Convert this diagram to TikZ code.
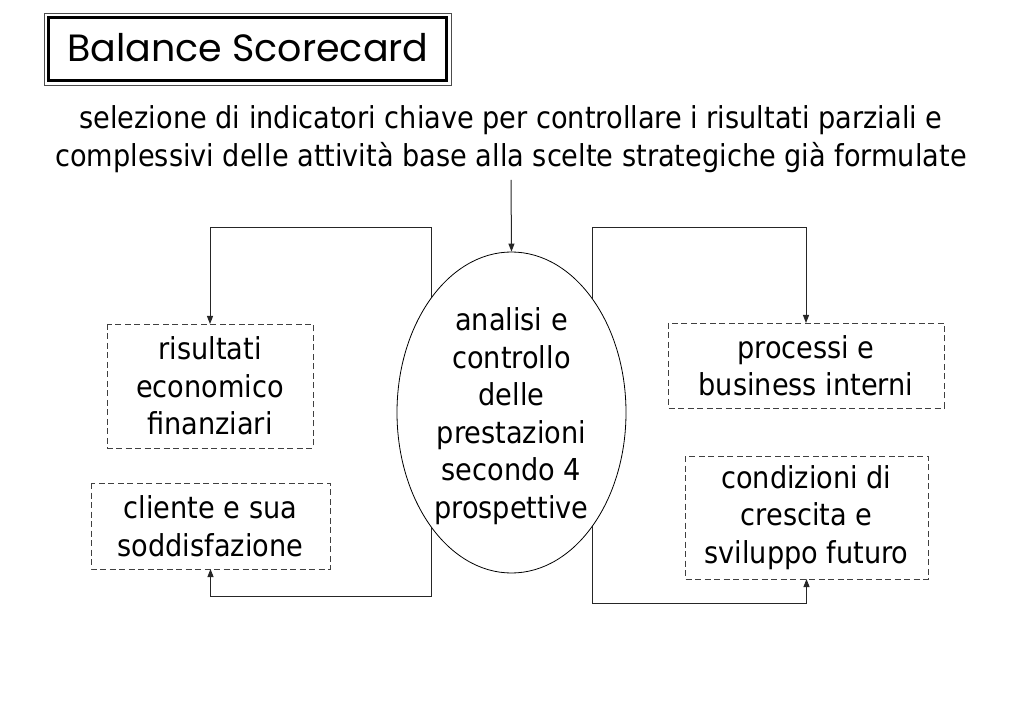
\documentclass[tikz,border=0pt]{standalone}
\usepackage{fontspec}
\setmainfont{DejaVu Sans Condensed}
\newfontfamily\titlefont{Poppins}
\usetikzlibrary{shapes.geometric,arrows.meta,calc}
\pgfdeclarelayer{background}
\pgfsetlayers{background,main}
\tikzset{
  txt/.style={font=\fontsize{30.2}{37.5}\selectfont, align=center, inner sep=0pt},
  dbox/.style={draw=black!75, dashed, dash pattern=on 6pt off 3.5pt, line width=0.8pt, fill=white},
  conn/.style={draw=black!85, line width=1pt},
  arr/.style={conn, -{Triangle[length=8pt,width=6pt]}},
}
\begin{document}
\begin{tikzpicture}[x=1pt,y=-1pt]
\useasboundingbox (0,0) rectangle (1023,708);
% title
\draw[black!70, line width=0.8pt] (44,13) rectangle (451,85);
\draw[black, line width=3pt] (48.5,17.5) rectangle (446.5,80.5);
\node[inner sep=0pt, font=\titlefont\fontsize{38}{40}\selectfont] (title) at (248,48) {Balance Scorecard};
% top text
\node[txt] (intro) at (511,139) {selezione di indicatori chiave per controllare i risultati parziali e\\complessivi delle attività base alla scelte strategiche già formulate};
% ellipse
\node[ellipse, draw, fill=white, line width=0.8pt, minimum width=229pt, minimum height=321pt, inner sep=0pt] (e) at (511.5,412.5) {};
\node[txt] (etxt) at (511.5,416) {analisi e\\controllo\\delle\\prestazioni\\secondo 4\\prospettive};
% boxes
\path[dbox] (107,324) rectangle (313,448);
\node[txt] (r1) at (210,386) {risultati\\economico\\finanziari};
\path[dbox] (668,323) rectangle (944,408);
\node[txt] (r2) at (806,365.5) {processi e\\business interni};
\path[dbox] (91,483) rectangle (330,569);
\node[txt] (r3) at (210.5,526) {cliente e sua\\soddisfazione};
\path[dbox] (685,456) rectangle (928,579);
\node[txt] (r4) at (806.5,517.5) {condizioni di\\crescita e\\sviluppo futuro};
\coordinate (r1n) at (210,324);
\coordinate (r2n) at (806,323);
\coordinate (r3s) at (210.5,569);
\coordinate (r4s) at (806.5,579);
\coordinate (src) at (511,180);
\coordinate (tl) at (431,228);
\coordinate (tr) at (592,228);
\coordinate (bl) at (431,596);
\coordinate (br) at (592,603);
% connectors
\draw[arr] (src) -- (e.north);
\begin{pgfonlayer}{background}
\draw[arr] (e.center -| tl) -- (tl) -| (r1n);
\draw[arr] (e.center -| tr) -- (tr) -| (r2n);
\draw[arr] (e.center -| bl) -- (bl) -| (r3s);
\draw[arr] (e.center -| br) -- (br) -| (r4s);
\end{pgfonlayer}
\end{tikzpicture}
\end{document}
